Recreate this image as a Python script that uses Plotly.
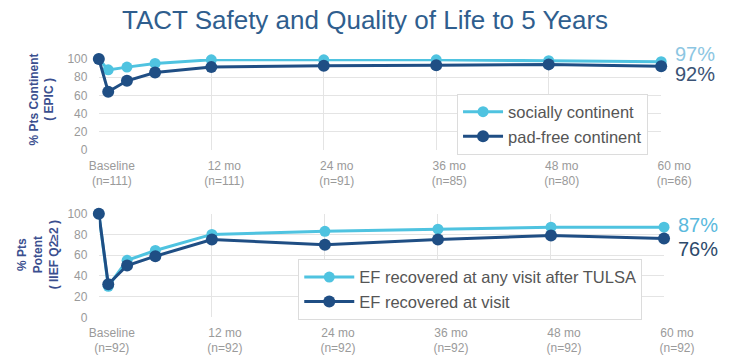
import plotly.graph_objects as go

# ---- data ----
months = [0, 1, 3, 6, 12, 24, 36, 48, 60]
tick_months = [0, 12, 24, 36, 48, 60]

socially_continent = [100, 88, 91, 95, 99, 99, 99, 98, 97]
pad_free_continent = [100, 64, 76, 85, 91, 92.5, 93, 94, 92]
top_ticktext = ["Baseline<br>(n=111)", "12 mo<br>(n=111)", "24 mo<br>(n=91)",
                "36 mo<br>(n=85)", "48 mo<br>(n=80)", "60 mo<br>(n=66)"]

ef_any_visit = [100, 30, 55, 64.5, 80, 83, 85, 87, 87]
ef_at_visit = [100, 32, 50, 59, 75, 70, 75, 79, 76]
bot_ticktext = ["Baseline<br>(n=92)", "12 mo<br>(n=92)", "24 mo<br>(n=92)",
                "36 mo<br>(n=92)", "48 mo<br>(n=92)", "60 mo<br>(n=92)"]

y_ticks = [0, 20, 40, 60, 80, 100]

# ---- styles ----
LIGHT = "#4fc3e0"
DARK = "#1f4e84"
GRID = "#e4e4e4"
TICK = "#9a9a9a"
FONT = "Liberation Sans, Arial, sans-serif"

fig = go.Figure()

def add(x, y, name, color, size, xa, ya, leg):
    fig.add_trace(go.Scatter(
        x=x, y=y, name=name, mode="lines+markers",
        line=dict(color=color, width=3),
        marker=dict(color=color, size=size),
        xaxis=xa, yaxis=ya, legend=leg, cliponaxis=False))

add(months, socially_continent, "socially continent", LIGHT, 11, "x", "y", "legend")
add(months, pad_free_continent, "pad-free continent", DARK, 12, "x", "y", "legend")
add(months, ef_any_visit, "EF recovered at any visit after TULSA", LIGHT, 11, "x2", "y2", "legend2")
add(months, ef_at_visit, "EF recovered at visit", DARK, 12, "x2", "y2", "legend2")

def xaxis(domain, anchor, ticktext):
    return dict(
        domain=domain, anchor=anchor, range=[0, 60],
        tickvals=tick_months, ticktext=ticktext, ticklabelshift=13,
        showgrid=True, gridcolor=GRID, gridwidth=1,
        zeroline=False, showline=False,
        ticks="outside", ticklen=4, tickcolor="rgba(0,0,0,0)",
        tickfont=dict(family=FONT, size=12, color=TICK),
    )

def yaxis(domain, anchor):
    return dict(
        domain=domain, anchor=anchor, range=[0, 100],
        tickvals=y_ticks, showgrid=True, gridcolor=GRID, gridwidth=1,
        zeroline=False, showline=False,
        ticks="outside", ticklen=8, tickcolor="rgba(0,0,0,0)",
        tickfont=dict(family=FONT, size=12, color=TICK),
    )

W, H = 747, 360
legend_style = dict(xanchor="left", yanchor="top", bgcolor="white",
                    bordercolor="#dcdcdc", borderwidth=1,
                    font=dict(family=FONT, size=16.5, color="#555555"),
                    tracegroupgap=0)
fig.update_layout(
    width=W, height=H,
    margin=dict(l=0, r=0, t=0, b=0),
    paper_bgcolor="white", plot_bgcolor="white",
    font=dict(family=FONT),
    title=dict(text="TACT Safety and Quality of Life to 5 Years",
               x=365 / W, xanchor="center", y=1 - 20 / H, yanchor="middle",
               font=dict(family=FONT, size=26, color="#2f5e8e")),
    xaxis=xaxis([94 / W, 689 / W], "y", top_ticktext),
    yaxis=yaxis([1 - 149 / H, 1 - 54 / H], "x"),
    xaxis2=xaxis([94 / W, 692 / W], "y2", bot_ticktext),
    yaxis2=yaxis([1 - 323 / H, 1 - 215 / H], "x2"),
    legend=dict(x=473 / W, y=1 - 90 / H, itemwidth=40, **legend_style),
    legend2=dict(x=305 / W, y=1 - 262 / H, itemwidth=50, **legend_style),
    showlegend=True,
)

# y-axis titles
fig.add_annotation(text="<b>% Pts Continent<br>( EPIC )</b>", x=34 / W, y=1 - 96 / H,
                   xref="paper", yref="paper", xanchor="center", yanchor="middle",
                   textangle=-90, showarrow=False,
                   font=dict(family=FONT, size=12, color="#3b4f8f"))
fig.add_annotation(text="<b>% Pts<br>Potent<br>( IIEF Q2≥2 )</b>", x=30 / W, y=1 - 258 / H,
                   xref="paper", yref="paper", xanchor="center", yanchor="middle",
                   textangle=-90, showarrow=False,
                   font=dict(family=FONT, size=12, color="#3b4f8f"))

# end-value labels
def end_label(val, text, color, xa, ya, yshift):
    fig.add_annotation(text=text, x=60, y=val, xref=xa, yref=ya, xanchor="left",
                       yanchor="middle", xshift=12, yshift=yshift, showarrow=False,
                       font=dict(family=FONT, size=20, color=color))

end_label(socially_continent[-1], "97%", "#8cc6e2", "x", "y", 8)
end_label(pad_free_continent[-1], "92%", "#3a5375", "x", "y", -8)
end_label(ef_any_visit[-1], "87%", "#5ab9dd", "x2", "y2", 2)
end_label(ef_at_visit[-1], "76%", "#2d4a6b", "x2", "y2", -10)

fig.write_html("out.html")
